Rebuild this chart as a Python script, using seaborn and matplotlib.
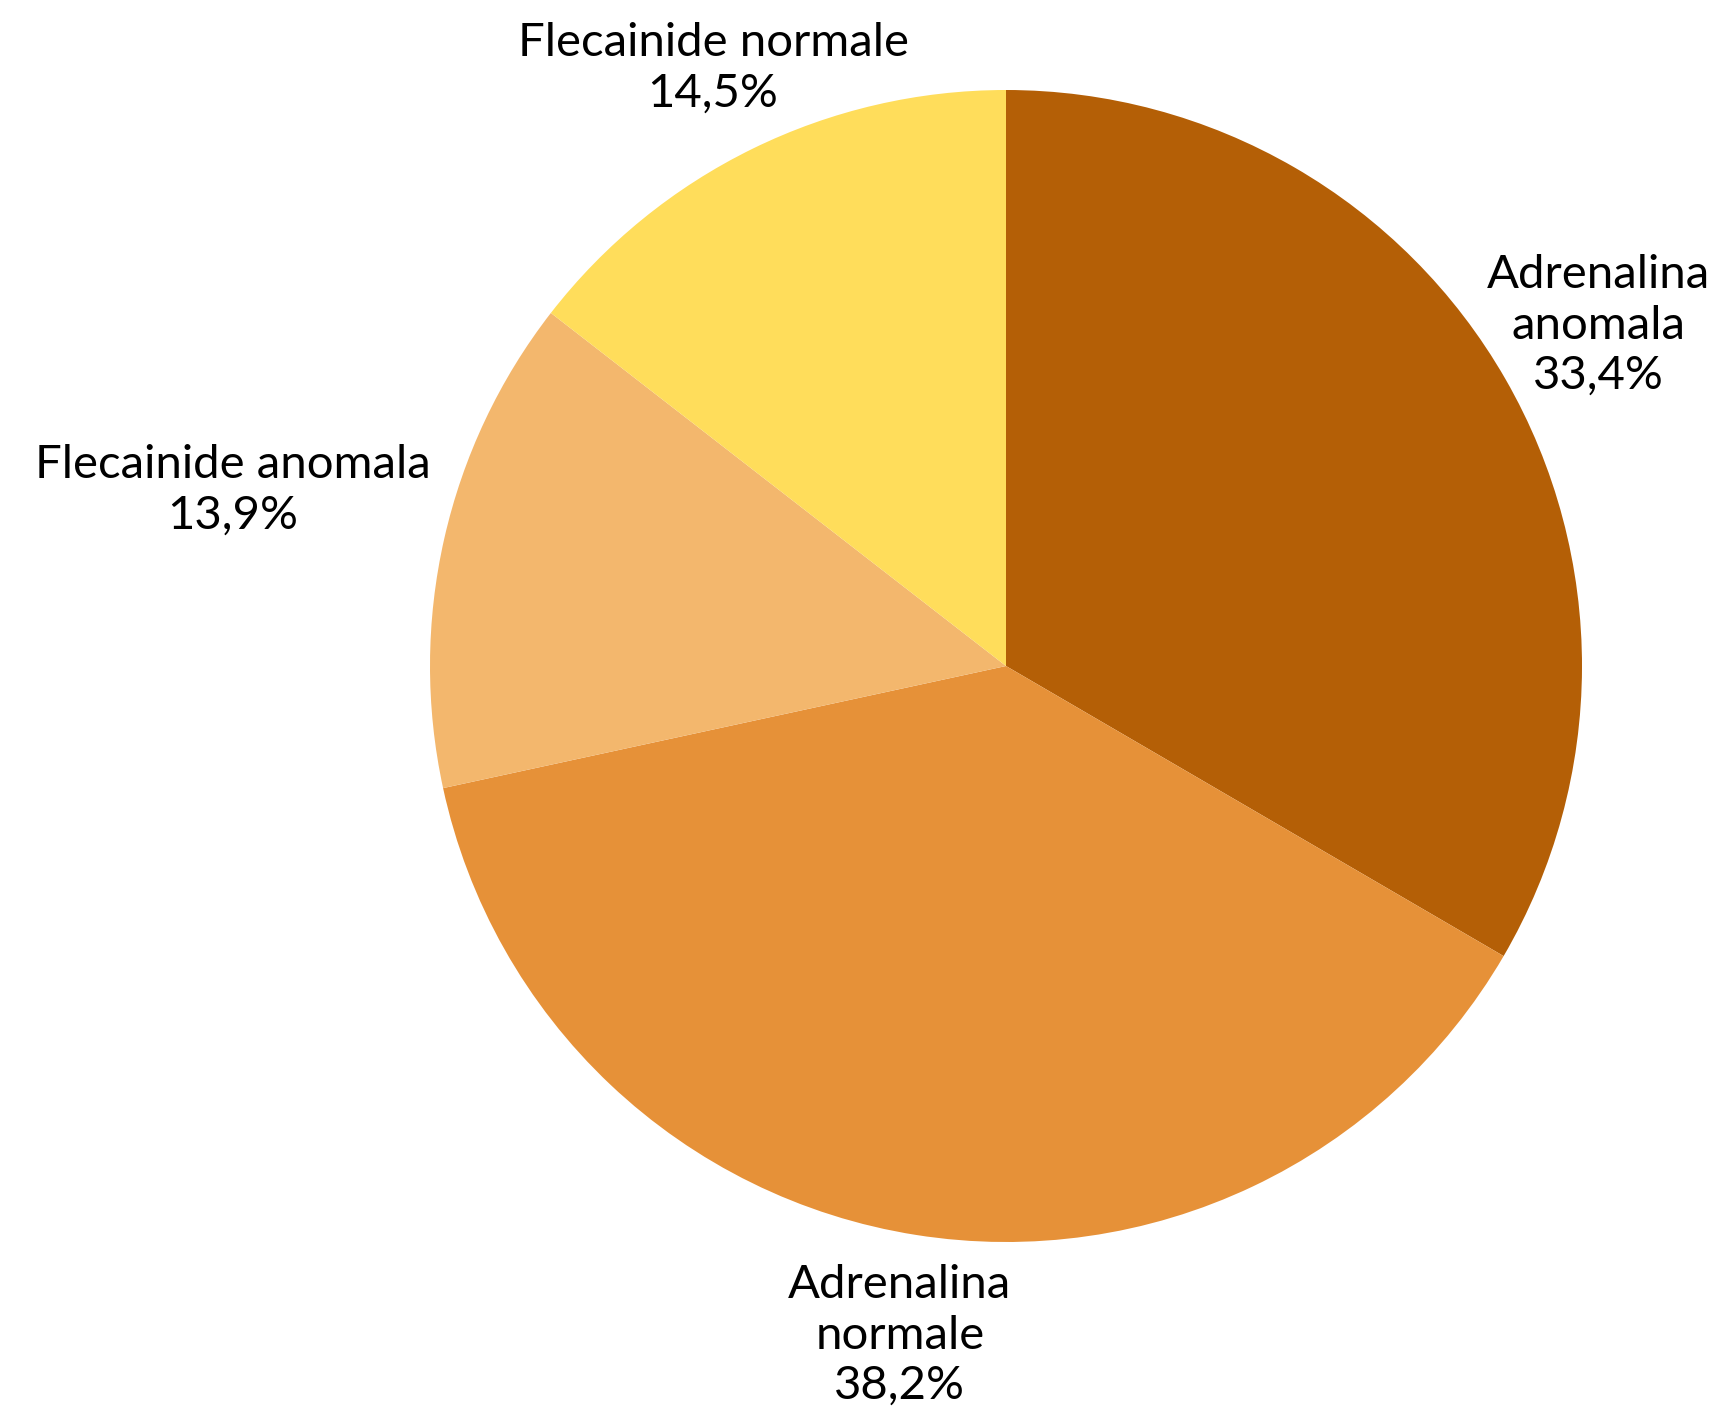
import numpy as np
import matplotlib
matplotlib.use("Agg")
import matplotlib.pyplot as plt
import seaborn as sns

sns.set_theme(style="white")
plt.rcParams['font.family'] = ['Lato', 'DejaVu Sans']

categories = ["Adrenalina\nanomala", "Adrenalina\nnormale", "Flecainide anomala", "Flecainide normale"]
shares = [33.4, 38.2, 13.9, 14.5]
colors = ["#B45F06", "#E69138", "#F3B76D", "#FFDD5B"]
label_dist = [1.186, 1.177, 1.377, 1.156]

fig = plt.figure(figsize=(17.2, 14.1), dpi=100)
cx, cy, r = 1006 / 1720, 1 - 666 / 1410, 576
ax = fig.add_axes([cx - r / 1720, cy - r / 1410, 2 * r / 1720, 2 * r / 1410])

wedges, _ = ax.pie(shares, colors=colors, startangle=90, counterclock=False,
                   radius=1, wedgeprops=dict(linewidth=0))
ax.set_xlim(-1, 1)
ax.set_ylim(-1, 1)
ax.set_aspect("equal")
ax.axis("off")

for w, lab, val, d in zip(wedges, categories, shares, label_dist):
    mid = np.deg2rad((w.theta1 + w.theta2) / 2)
    txt = f"{lab}\n{val:.1f}%".replace(".", ",")
    ax.text(d * np.cos(mid), d * np.sin(mid), txt, ha="center", va="center",
            fontsize=34, fontweight="normal", color="#000000", linespacing=1.25,
            clip_on=False)

fig.savefig("out.png", dpi=100, facecolor="white")
